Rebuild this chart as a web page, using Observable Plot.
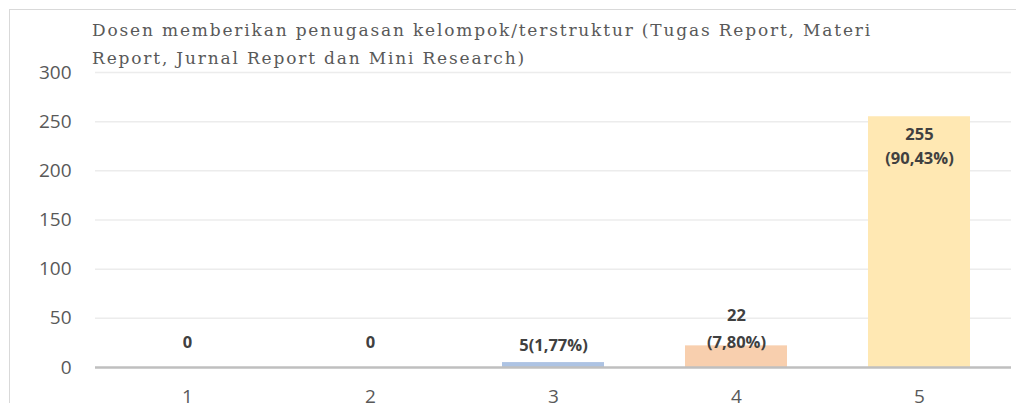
<!DOCTYPE html>
<html><head><meta charset="utf-8">
<script src="https://cdn.jsdelivr.net/npm/d3@7"></script>
<script src="https://cdn.jsdelivr.net/npm/@observablehq/plot@0.6"></script>
<style>
html,body{margin:0;padding:0;background:#fff;}
#wrap{position:relative;width:1016px;height:403px;overflow:hidden;}
#frame{position:absolute;left:9px;top:9px;width:1100px;height:500px;border:1.5px solid #d9d9d9;box-sizing:border-box;}
#title{position:absolute;left:92px;top:16px;font-family:"DejaVu Serif",serif;font-size:17px;line-height:28px;color:#595959;white-space:nowrap;}
#title span{display:block;}
#chart{position:absolute;left:0;top:0;}
</style></head>
<body><div id="wrap"><div id="frame"></div><div id="chart"></div>
<div id="title"><span id="t1">Dosen memberikan penugasan kelompok/terstruktur (Tugas Report, Materi</span><span id="t2">Report, Jurnal Report dan Mini Research)</span></div></div>
<script>
const categories = ["1","2","3","4","5"];
const counts = [0, 0, 5, 22, 255];
const labels = ["0", "0", "5(1,77%)", "22\n(7,80%)", "255\n(90,43%)"];
const colors = ["#adc3e3", "#adc3e3", "#adc3e3", "#f8cfae", "#ffe8b3"];
const yTicks = [0, 50, 100, 150, 200, 250, 300];

const data = categories.map((c, i) => ({cat: c, v: counts[i], label: labels[i], color: colors[i]}));
const lab = {fontSize: 16.5, fontWeight: "bold", fill: "#404040", lineAnchor: "bottom"};

const chart = Plot.plot({
  width: 1016, height: 403,
  marginLeft: 95, marginRight: 5, marginTop: 72, marginBottom: 36,
  style: {fontFamily: "'Open Sans', sans-serif", background: "transparent"},
  x: {domain: categories, paddingInner: 0.44, paddingOuter: 0.22, label: null},
  y: {domain: [0, 300], label: null},
  marks: [
    Plot.ruleY(yTicks.filter(d => d > 0), {stroke: "#ececec", strokeWidth: 1.5}),
    Plot.barY(data, {x: "cat", y: "v", fill: "color"}),
    Plot.ruleY([0], {stroke: "#bfbfbf", strokeWidth: 2.5}),
    Plot.axisY({ticks: yTicks, tickSize: 0, tickPadding: 24, fontSize: 19, fill: "#595959", label: null}),
    Plot.axisX({tickSize: 0, tickPadding: 22, fontSize: 19, fill: "#595959", label: null}),
    Plot.text(data.filter(d => d.cat === "1" || d.cat === "2"), {x: "cat", y: "v", text: "label", ...lab, dy: -20}),
    Plot.text(data.filter(d => d.cat === "3"), {x: "cat", y: "v", text: "label", ...lab, dy: -12}),
    Plot.text(data.filter(d => d.cat === "4"), {x: "cat", y: "v", text: "label", ...lab, lineHeight: 1.63, dy: 2}),
    Plot.text(data.filter(d => d.cat === "5"), {x: "cat", y: "v", text: "label", ...lab, lineAnchor: "top", lineHeight: 1.45, dy: 6})
  ]
});
document.getElementById("chart").appendChild(chart);
// stretch title letter-spacing so that the first line spans like the reference
const t1 = document.getElementById("t1");
const n = t1.textContent.length;
const w = t1.getBoundingClientRect().width;
const ls = (780 - w) / n;
document.getElementById("title").style.letterSpacing = ls + "px";
</script></body></html>
